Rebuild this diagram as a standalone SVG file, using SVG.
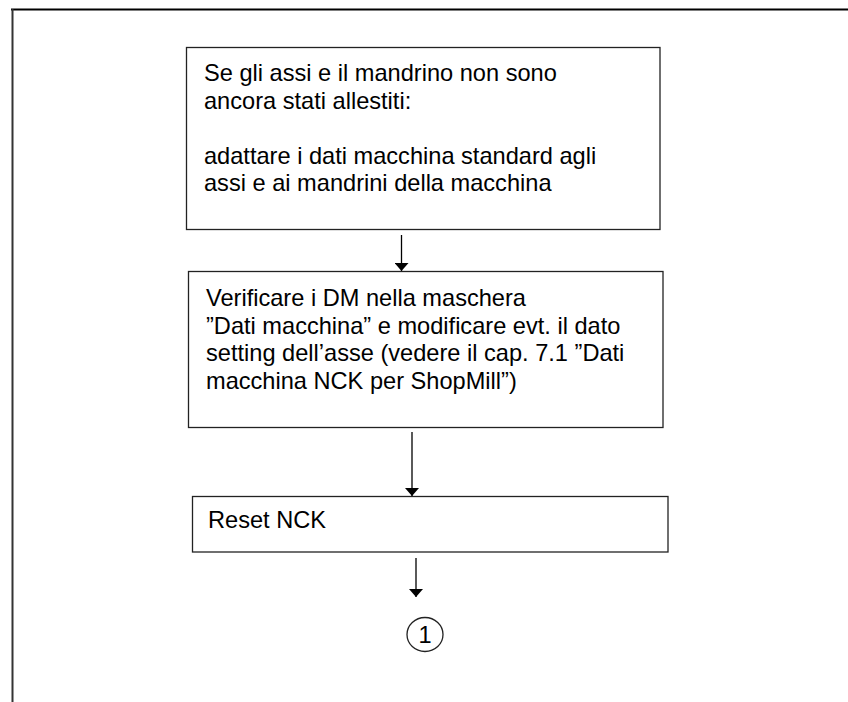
<svg xmlns="http://www.w3.org/2000/svg" width="848" height="702" viewBox="0 0 848 702">
<style>
.box{fill:#fff;stroke:#222;stroke-width:1.3}
.t{font-family:"Liberation Sans",Arial,sans-serif;font-size:23.6px;fill:#000}
.c{stroke:#000;stroke-width:1.3;fill:none}
</style>
<defs>
<marker id="ah" viewBox="0 0 8 14" refX="8" refY="7" markerWidth="8" markerHeight="14" markerUnits="userSpaceOnUse" orient="auto">
<path d="M0,0 L8,7 L0,14 Z" fill="#000"/>
</marker>
</defs>
<rect width="848" height="702" fill="#fff"/>
<g id="frame">
<line x1="11" y1="9.5" x2="848" y2="9.5" stroke="#000" stroke-width="2"/>
<line x1="12.5" y1="9" x2="12.5" y2="702" stroke="#333" stroke-width="2"/>
</g>
<g id="node1">
<rect class="box" x="186.5" y="47.5" width="473.5" height="182"/>
<text class="t" x="204" y="81">Se gli assi e il mandrino non sono</text>
<text class="t" x="204" y="108.5">ancora stati allestiti:</text>
<text class="t" x="204" y="163.5">adattare i dati macchina standard agli</text>
<text class="t" x="204" y="191">assi e ai mandrini della macchina</text>
</g>
<g id="node2">
<rect class="box" x="188.5" y="271.5" width="474.5" height="156"/>
<text class="t" x="206" y="306">Verificare i DM nella maschera</text>
<text class="t" x="206" y="333.5">”Dati macchina” e modificare evt. il dato</text>
<text class="t" x="206" y="361">setting dell’asse (vedere il cap. 7.1 ”Dati</text>
<text class="t" x="206" y="388.5">macchina NCK per ShopMill”)</text>
</g>
<g id="node3">
<rect class="box" x="192.5" y="496.5" width="475.5" height="55.5"/>
<text class="t" x="208" y="528">Reset NCK</text>
</g>
<g id="node4">
<ellipse class="box" cx="425" cy="634.5" rx="18" ry="17"/>
<text class="t" x="425" y="643" text-anchor="middle">1</text>
</g>
<g id="connectors">
<line class="c" x1="401.5" y1="235" x2="401.5" y2="271" marker-end="url(#ah)"/>
<line class="c" x1="412" y1="432" x2="412" y2="496" marker-end="url(#ah)"/>
<line class="c" x1="416" y1="558" x2="416" y2="597" marker-end="url(#ah)"/>
</g>
</svg>
